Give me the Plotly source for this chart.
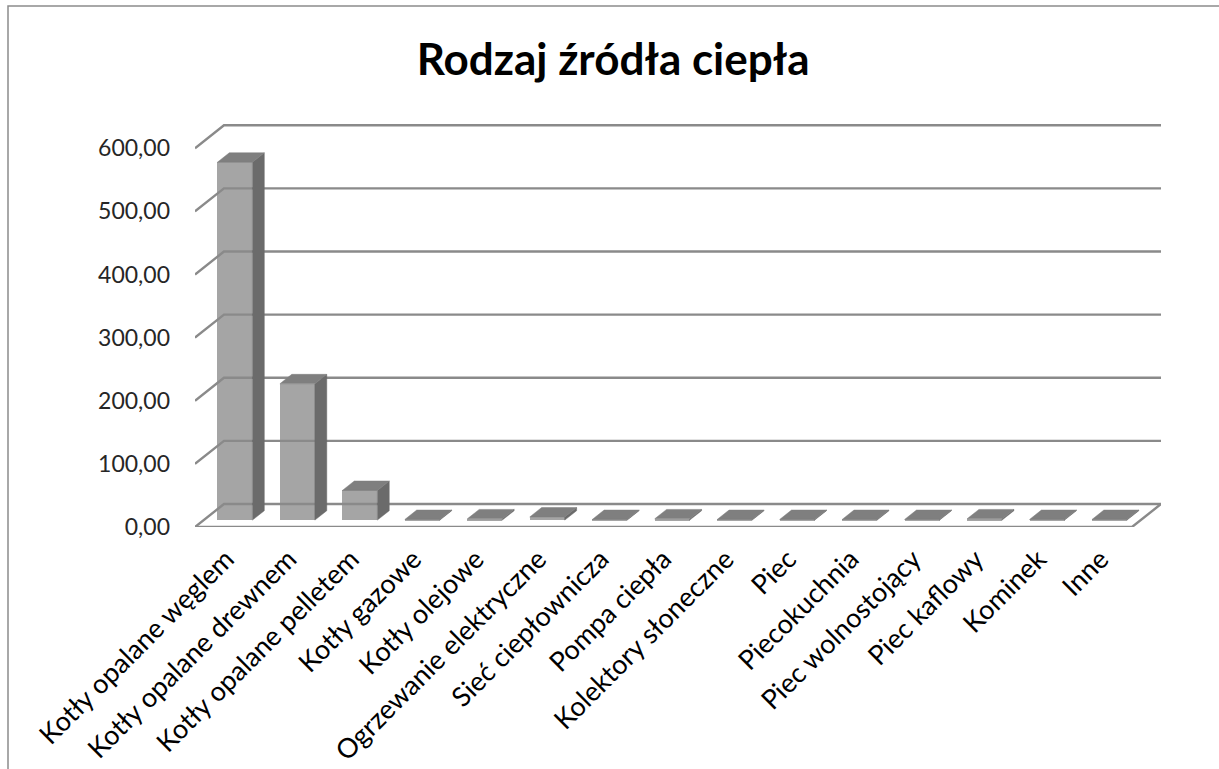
import plotly.graph_objects as go

# ---- data ----
categories = ["Kotły opalane węglem", "Kotły opalane drewnem", "Kotły opalane pelletem",
              "Kotły gazowe", "Kotły olejowe", "Ogrzewanie elektryczne", "Sieć ciepłownicza",
              "Pompa ciepła", "Kolektory słoneczne", "Piec", "Piecokuchnia",
              "Piec wolnostojący", "Piec kaflowy", "Kominek", "Inne"]
values = [567, 216, 47, 1, 2, 5, 1, 2, 1, 1, 1, 1, 2, 1, 1]
y_ticks = [0, 100, 200, 300, 400, 500, 600]
y_tick_labels = ["0,00", "100,00", "200,00", "300,00", "400,00", "500,00", "600,00"]
title_text = "Rodzaj źródła ciepła"

# ---- pseudo-3D geometry (in data units) ----
DX = 0.464   # horizontal depth offset of back wall (category units)
DY = 36.4    # vertical depth offset of back wall (value units)
T0, T1 = 0.30, 0.71   # bar depth span (fraction of floor depth)
BW = 0.56    # bar width
n = len(categories)
xl, xr = -0.5, n - 0.5

GRID = "#8a8a8a"
FRONT, SIDE, TOP = "#a5a5a5", "#6b6b6b", "#7f7f7f"
FONT = "Lato"

fig = go.Figure()

# back wall gridlines + left wall diagonals
gx, gy = [], []
for v in y_ticks:
    gx += [xl, xl + DX, xr + DX, None]
    gy += [v, v + DY, v + DY, None]
# floor front edge and right diagonal
gx += [xl, xr, xr + DX, None]
gy += [0, 0, DY, None]
fig.add_trace(go.Scatter(x=gx, y=gy, mode="lines", line=dict(color=GRID, width=2.4),
                         hoverinfo="skip", showlegend=False))

# bar side and top faces
ddx, ddy = (T1 - T0) * DX, (T1 - T0) * DY
b0 = T0 * DY
sx, sy, tx, ty = [], [], [], []
centers = []
for i, v in enumerate(values):
    c = i + T0 * DX
    centers.append(c)
    r = c + BW / 2
    l = c - BW / 2
    sx += [r, r, r + ddx, r + ddx, r, None]
    sy += [b0, b0 + v, b0 + v + ddy, b0 + ddy, b0, None]
    tx += [l, r, r + ddx, l + ddx, l, None]
    ty += [b0 + v, b0 + v, b0 + v + ddy, b0 + v + ddy, b0 + v, None]

fig.add_trace(go.Scatter(x=sx, y=sy, mode="lines", fill="toself", fillcolor=SIDE,
                         line=dict(color=SIDE, width=0.5), hoverinfo="skip", showlegend=False))
fig.add_trace(go.Scatter(x=tx, y=ty, mode="lines", fill="toself", fillcolor=TOP,
                         line=dict(color=TOP, width=0.5), hoverinfo="skip", showlegend=False))

# bar front faces
fig.add_trace(go.Bar(x=centers, y=values, base=[b0] * n, width=BW,
                     marker=dict(color=FRONT, line=dict(width=0)),
                     hovertext=categories, showlegend=False))

L, R, T, B = 195, 58, 123, 242
W, H = 1219, 769
pw, ph = W - L - R, H - T - B


def px_x(p):
    return (p - L) / pw


def px_y(p):
    return (H - B - p) / ph


fig.update_layout(
    width=W, height=H,
    margin=dict(l=L, r=R, t=T, b=B, autoexpand=False),
    paper_bgcolor="white", plot_bgcolor="white",
    bargap=0,
    title=dict(text=title_text, x=0.503, xanchor="center", y=1 - 60 / H, yanchor="middle",
               yref="container",
               font=dict(family=FONT, size=44, color="#000000", weight="bold")),
    font=dict(family=FONT, color="#262626"),
    xaxis=dict(range=[xl, xr + DX], tickmode="array", tickvals=list(range(n)),
               ticktext=categories, tickangle=-45, showgrid=False, zeroline=False,
               showline=False, ticks="", ticklabelstandoff=10,
               tickfont=dict(family=FONT, size=27, color="#000000")),
    yaxis=dict(range=[0, 640], tickmode="array", tickvals=y_ticks, ticktext=y_tick_labels,
               showgrid=False, zeroline=False, showline=False, ticks="",
               ticklabelstandoff=24, tickfont=dict(family=FONT, size=23, color="#262626")),
    shapes=[dict(type="rect", xref="paper", yref="paper",
                 x0=px_x(8), x1=px_x(1240), y0=px_y(790), y1=px_y(6),
                 line=dict(color="#8c8c8c", width=1.5), fillcolor="rgba(0,0,0,0)", layer="below")],
)

fig.write_html("out.html", config={"displayModeBar": False},
               post_script="document.body.style.margin='0px';")
